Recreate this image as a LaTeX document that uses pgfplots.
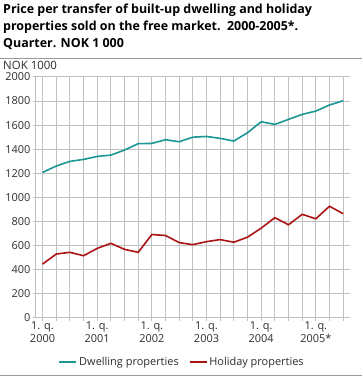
\documentclass[border=0pt]{standalone}
\usepackage{fontspec}
\setmainfont{Open Sans}
\usepackage{pgfplots}
\pgfplotsset{compat=1.18}
\definecolor{dwell}{RGB}{26,150,150}
\definecolor{holi}{RGB}{170,20,20}
\definecolor{gridc}{RGB}{192,192,192}
\definecolor{txt}{RGB}{45,45,45}
\begin{document}
\begin{tikzpicture}
\path[use as bounding box] (0bp,0bp) rectangle (363bp,377bp);
\node[anchor=north west, align=left, font=\fontsize{12.5}{17}\selectfont\bfseries, inner sep=0, text=black] at (3bp,373.5bp)
 {Price per transfer of built-up dwelling and holiday\\properties sold on the free market.\ \ 2000-2005*.\\Quarter. NOK 1 000};
\draw[gridc!80!black, line width=1bp] (0bp,318.7bp) -- (362bp,318.7bp);
\node[anchor=base west, font=\fontsize{11.5}{13}\selectfont, inner sep=0, text=txt] at (3bp,307.8bp) {NOK 1000};
\draw[gridc!80!black, line width=1bp] (0bp,1.3bp) -- (362bp,1.3bp);
\begin{axis}[at={(35.7bp,59.3bp)}, anchor=south west, scale only axis,
  width=314.3bp, height=240.7bp,
  xmin=-0.5, xmax=22.5, ymin=0, ymax=2000,
  axis x line*=bottom, axis y line*=left,
  axis line style={gridc, line width=1bp},
  xmajorgrids=true, ymajorgrids=true,
  grid style={gridc, line width=1bp},
  xtick={0,...,22},
  xticklabels={{1. q.\\2000},{},{},{},{1. q.\\2001},{},{},{},{1. q.\\2002},{},{},{},{1. q.\\2003},{},{},{},{1. q.\\2004},{},{},{},{1. q.\\2005*},{},{}},
  xticklabel style={align=center, font=\fontsize{11}{12.5}\selectfont, text=txt, inner sep=1bp},
  ytick={0,200,...,2000},
  yticklabel style={font=\fontsize{11}{12}\selectfont, text=txt, inner sep=2bp},
  /pgf/number format/assume math mode=true,
  /pgf/number format/1000 sep={},
  tick align=outside,
  major tick length=3bp,
  tick style={gridc, line width=1bp},
  legend columns=2,
  legend style={at={(0.466,-0.184)}, anchor=center, draw=none, fill=none,
    font=\fontsize{11}{12}\selectfont, text=txt,
    /tikz/every even column/.append style={column sep=8bp}},
  legend image code/.code={\draw[#1, line width=1.6bp] (0,0) -- (17bp,0);},
]
\addplot[dwell, line width=1.6bp] coordinates {
(0,1207)(1,1260)(2,1299)(3,1315)(4,1340)(5,1351)(6,1393)(7,1446)(8,1448)(9,1479)(10,1462)(11,1500)
(12,1506)(13,1490)(14,1468)(15,1537)(16,1628)(17,1606)(18,1648)(19,1689)(20,1717)(21,1767)(22,1803)};
\addlegendentry{Dwelling properties}
\addplot[holi, line width=1.6bp] coordinates {
(0,445)(1,529)(2,543)(3,515)(4,576)(5,618)(6,568)(7,543)(8,691)(9,683)(10,624)(11,607)
(12,632)(13,649)(14,627)(15,669)(16,744)(17,831)(18,772)(19,859)(20,822)(21,926)(22,864)};
\addlegendentry{Holiday properties}
\end{axis}
\end{tikzpicture}
\end{document}
